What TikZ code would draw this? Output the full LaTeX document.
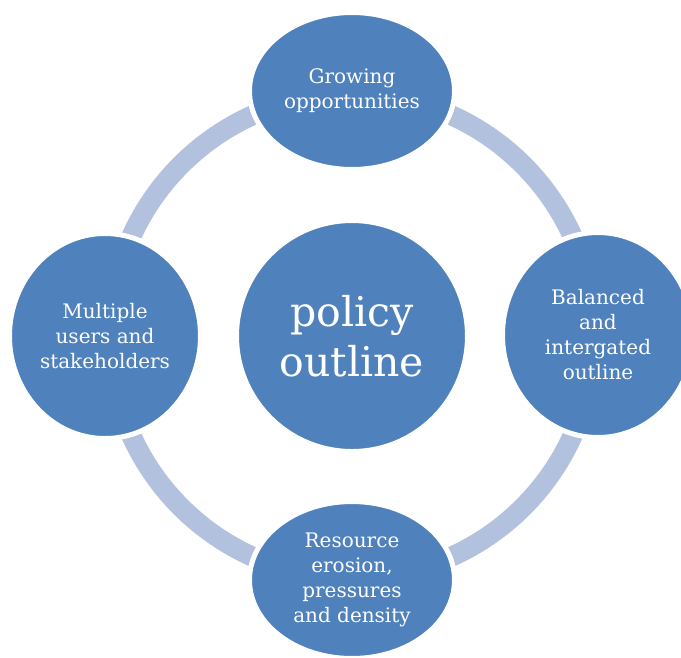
\documentclass[tikz,border=0pt]{standalone}
\usepackage{fontspec}
\setmainfont{DejaVu Serif}
\usetikzlibrary{shapes.geometric}
\definecolor{cycleblue}{RGB}{79,129,189}
\definecolor{ringblue}{RGB}{178,193,221}

\begin{document}
\begin{tikzpicture}[x=1pt,y=-1pt,
  bubble/.style={ellipse, fill=cycleblue, draw=white, line width=5pt, inner sep=0pt,
    text=white, align=center, font=\fontsize{20}{25}\selectfont},
  wide/.style={minimum width=205pt, minimum height=157pt},
  tall/.style={minimum width=191pt, minimum height=205pt}]
\useasboundingbox (0,0) rectangle (681,657);
\coordinate (hub) at (352,336);
\draw[ringblue, line width=20pt] (hub) circle (242pt);
\node[bubble, minimum size=231pt, font=\fontsize{41}{50}\selectfont] (policy) at (hub) {policy\\outline};
\node[bubble, wide] (growing) at (352,91) {Growing\\opportunities};
\node[bubble, tall] (balanced) at (598,335) {Balanced\\and\\intergated\\outline};
\node[bubble, wide] (resource) at (352,580) {Resource\\erosion,\\pressures\\and density};
\node[bubble, tall] (users) at (105,336) {Multiple\\users and\\stakeholders};
\end{tikzpicture}
\end{document}
